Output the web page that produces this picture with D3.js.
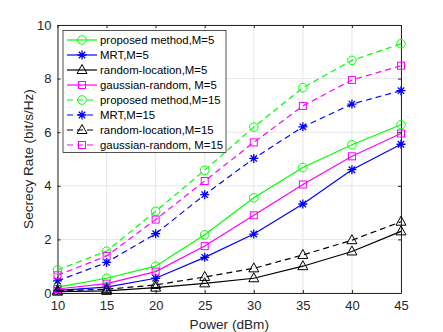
<!DOCTYPE html>
<html><head><meta charset="utf-8">
<script src="https://cdn.jsdelivr.net/npm/d3@7"></script>
<style>body{margin:0;background:#fff}svg{display:block}text{font-family:"Liberation Sans",Arial,sans-serif}</style>
</head><body><svg id="c" width="443" height="332"></svg>
<script>
const powers = [10, 15, 20, 25, 30, 35, 40, 45];
const xTicks = [10, 15, 20, 25, 30, 35, 40, 45];
const yTicks = [0, 2, 4, 6, 8, 10];
const proposedM5 = [0.22, 0.55, 1.0, 2.17, 3.55, 4.68, 5.53, 6.28];
const mrtM5 = [0.1, 0.22, 0.55, 1.33, 2.2, 3.32, 4.6, 5.55];
const randomM5 = [0.05, 0.08, 0.2, 0.36, 0.55, 1.0, 1.55, 2.3];
const gaussianM5 = [0.15, 0.35, 0.8, 1.75, 2.9, 4.05, 5.1, 5.95];
const proposedM15 = [0.86, 1.56, 3.05, 4.58, 6.19, 7.66, 8.68, 9.3];
const mrtM15 = [0.45, 1.14, 2.21, 3.67, 5.02, 6.2, 7.05, 7.55];
const randomM15 = [0.09, 0.14, 0.3, 0.6, 0.92, 1.42, 1.97, 2.66];
const gaussianM15 = [0.66, 1.38, 2.74, 4.18, 5.62, 6.98, 7.95, 8.48];

const series = [
  {name:"proposed method,M=5", v:proposedM5, c:"#00ff00", m:"circle", d:false},
  {name:"MRT,M=5", v:mrtM5, c:"#0000ff", m:"star", d:false},
  {name:"random-location,M=5", v:randomM5, c:"#000000", m:"tri", d:false},
  {name:"gaussian-random, M=5", v:gaussianM5, c:"#ff00ff", m:"square", d:false},
  {name:"proposed method,M=15", v:proposedM15, c:"#00ff00", m:"circle", d:true},
  {name:"MRT,M=15", v:mrtM15, c:"#0000ff", m:"star", d:true},
  {name:"random-location,M=15", v:randomM15, c:"#000000", m:"tri", d:true},
  {name:"gaussian-random, M=15", v:gaussianM15, c:"#ff00ff", m:"square", d:true}
];

const svg = d3.select("#c");
const L=57.5, R=401, T=25, B=293;
const x = d3.scaleLinear().domain([10,45]).range([L,R]);
const y = d3.scaleLinear().domain([0,10]).range([B,T]);

// grid
const g = svg.append("g");
g.selectAll(".gx").data(xTicks).join("line").attr("x1",d=>x(d)).attr("x2",d=>x(d)).attr("y1",T).attr("y2",B).attr("stroke","#e6e6e6").attr("stroke-width",1);
g.selectAll(".gy").data(yTicks).join("line").attr("y1",d=>y(d)).attr("y2",d=>y(d)).attr("x1",L).attr("x2",R).attr("stroke","#e6e6e6").attr("stroke-width",1);

// axes
const axCol="#262626";
const xa = svg.append("g").attr("transform",`translate(0,${B})`).call(d3.axisBottom(x).tickValues(xTicks).tickSizeInner(-3).tickSizeOuter(0).tickPadding(8));
const xa2 = svg.append("g").attr("transform",`translate(0,${T})`).call(d3.axisTop(x).tickValues(xTicks).tickSizeInner(-3).tickSizeOuter(0).tickFormat(""));
const ya = svg.append("g").attr("transform",`translate(${L},0)`).call(d3.axisLeft(y).tickValues(yTicks).tickSizeInner(-3).tickSizeOuter(0).tickPadding(6));
const ya2 = svg.append("g").attr("transform",`translate(${R},0)`).call(d3.axisRight(y).tickValues(yTicks).tickSizeInner(-3).tickSizeOuter(0).tickFormat(""));
[xa,xa2,ya,ya2].forEach(a=>{a.selectAll("path,line").attr("stroke",axCol);a.selectAll("text").attr("fill",axCol).attr("font-size",13).style("font-family","Liberation Sans, Arial, sans-serif");});

svg.append("text").attr("x",(L+R)/2).attr("y",329).attr("text-anchor","middle").attr("font-size",13.6).attr("fill",axCol).text("Power (dBm)");
svg.append("text").attr("transform",`translate(33,${(T+B)/2}) rotate(-90)`).attr("text-anchor","middle").attr("font-size",13.6).attr("fill",axCol).text("Secrecy Rate (bit/s/Hz)");

function marker(sel, type, col){
  if(type==="circle") sel.append("circle").attr("r",4.3).attr("fill","none").attr("stroke",col).attr("stroke-width",1);
  else if(type==="square") sel.append("rect").attr("x",-3.5).attr("y",-3.5).attr("width",7).attr("height",7).attr("fill","none").attr("stroke",col).attr("stroke-width",1);
  else if(type==="tri") sel.append("path").attr("d","M0,-5.5L5,3.5L-5,3.5Z").attr("fill","none").attr("stroke",col).attr("stroke-width",1);
  else if(type==="star") sel.append("path").attr("d","M0,-4.5V4.5M-4.5,0H4.5M-3.2,-3.2L3.2,3.2M-3.2,3.2L3.2,-3.2").attr("fill","none").attr("stroke",col).attr("stroke-width",1.3);
}

const line = d3.line().x((d,i)=>x(powers[i])).y(d=>y(d));
const pg = svg.append("g");
series.forEach(s=>{
  pg.append("path").attr("d",line(s.v)).attr("fill","none").attr("stroke",s.c).attr("stroke-width",1.2).attr("stroke-dasharray",s.d?"6,4":null);
  s.v.forEach((v,i)=>{ marker(pg.append("g").attr("transform",`translate(${x(powers[i])},${y(v)})`), s.m, s.c); });
});

// legend
const lg = svg.append("g");
lg.append("rect").attr("x",63).attr("y",30.5).attr("width",163).attr("height",122).attr("fill","#fff").attr("stroke",axCol).attr("stroke-width",0.8);
series.forEach((s,i)=>{
  const yy = 40 + i*15;
  lg.append("line").attr("x1",67).attr("x2",97).attr("y1",yy).attr("y2",yy).attr("stroke",s.c).attr("stroke-width",1.2).attr("stroke-dasharray",s.d?"6,4":null);
  marker(lg.append("g").attr("transform",`translate(82,${yy})`), s.m, s.c);
  lg.append("text").attr("x",100).attr("y",yy+4).attr("font-size",11.4).attr("fill","#000").text(s.name);
});
</script></body></html>
